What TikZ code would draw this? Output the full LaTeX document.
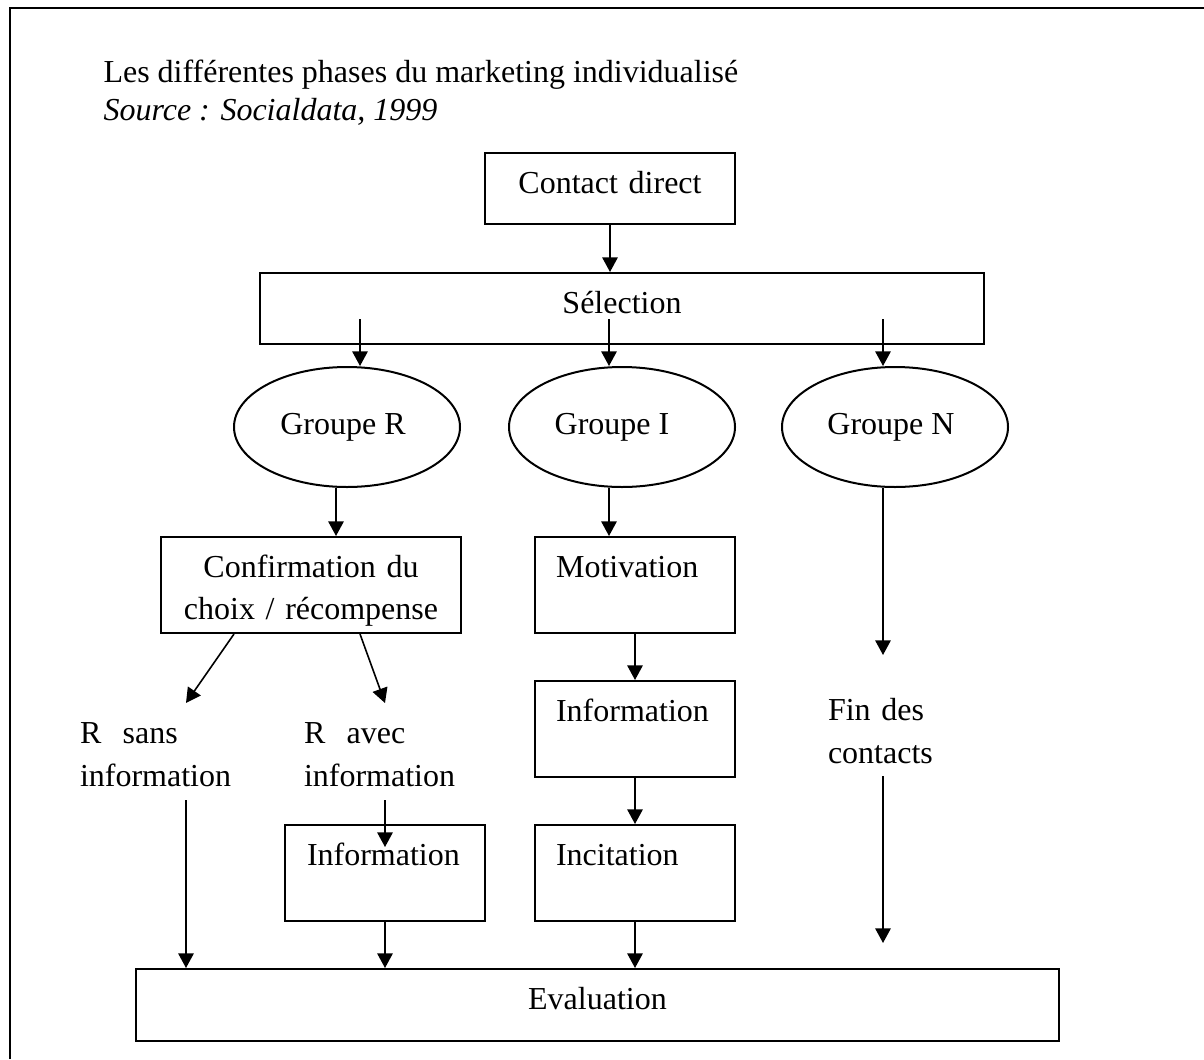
\documentclass[tikz,border=0pt]{standalone}
\usepackage{fontspec}
\setmainfont{Liberation Serif}
\usepackage{tikz}
\usetikzlibrary{shapes,arrows,positioning,calc,arrows.meta}

\begin{document}
\begin{tikzpicture}[x=0.375pt, y=-0.375pt,
    font=\fontsize{12}{16}\selectfont,
    boite/.style={draw, line width=.75pt, anchor=north west, inner sep=0pt, text height=15pt},
    gauche/.style={boite, align=left, inner xsep=7.9pt, text width=59.2pt, text depth=21pt},
    groupe/.style={draw, ellipse, line width=.75pt, minimum width=84.75pt, minimum height=45pt, inner sep=0pt},
    legende/.style={anchor=north, align=left, inner sep=0pt},
    fleche/.style={-{Triangle[length=5.5pt,width=5.8pt]}, line width=.6pt}]
    \useasboundingbox (0,0) rectangle (1204,1059);

    % Cadre
    \draw[line width=.75pt] (10,1059) -- (10,8) -- (1204,8);

    % Titre
    \node[anchor=base west, inner sep=0pt] (titre) at (103,82) {Les différentes phases du marketing individualisé};
    \node[anchor=base west, inner sep=0pt, font=\fontsize{12}{16}\selectfont\itshape] (source) at (103,121) {Source : Socialdata, 1999};

    % Boites
    \node[boite, align=center, text width=93.75pt, text depth=11.6pt] (contact) at (484,152) {Contact direct};
    \node[boite, align=center, text width=271.5pt, text depth=11.6pt] (selection) at (259,272) {Sélection};
    \node[groupe] (grpR) at (347,427) {Groupe R\kern3pt};
    \node[groupe] (grpI) at (622,427) {Groupe I\kern7.5pt};
    \node[groupe] (grpN) at (895,427) {Groupe N\kern3pt};
    \node[boite, align=center, text width=112.5pt, text depth=21pt] (confirm) at (160,536) {Confirmation du\\choix / récompense};
    \node[gauche] (motiv) at (534,536) {Motivation};
    \node[gauche] (infoI) at (534,680) {Information};
    \node[gauche] (incit) at (534,824) {Incitation};
    \node[gauche, inner xsep=8.25pt, text width=58.5pt] (infoR) at (284,824) {Information};
    \node[boite, align=center, text width=346.1pt, text depth=12pt] (eval) at (135,968) {Evaluation};

    % Textes libres
    \node[legende, text width=79.5pt, text height=15pt, text depth=21pt] (rsans) at (186,703) {R\ \ sans\\information};
    \node[legende, text width=60.75pt, text height=15pt, text depth=21pt] (ravec) at (385,703) {R\ \ avec\\information};
    \node[legende, text width=41.25pt, text height=24.5pt, text depth=20.5pt] (fin) at (883,655) {Fin des\\contacts};

    % Fleches
    \coordinate (sR) at (360,319);
    \coordinate (sI) at (609,319);
    \coordinate (sN) at (883,319);
    \draw[fleche] (contact.south) -- (contact.south |- selection.north);
    \draw[fleche] (sR) -- (sR |- grpR.north);
    \draw[fleche] (sI) -- (sI |- grpI.north);
    \draw[fleche] (sN) -- (sN |- grpN.north);
    \draw[fleche] ($(grpR.south)+(-11,0)$) -- ($(grpR.south |- confirm.north)+(-11,0)$);
    \draw[fleche] (grpI.south -| sI) -- (sI |- motiv.north);
    \draw[fleche] (grpN.south -| sN) -- (fin.north);
    \draw[fleche] ($(confirm.south west)+(74,0)$) -- (rsans.north);
    \draw[fleche] ($(confirm.south west)+(200,0)$) -- (ravec.north);
    \draw[fleche] (rsans.south) -- (rsans.south |- eval.north);
    \draw[fleche] (ravec.south) -- ($(infoR.north)+(0,23)$);
    \draw[fleche] (motiv.south) -- (infoI.north);
    \draw[fleche] (infoI.south) -- (incit.north);
    \draw[fleche] (infoR.south) -- (infoR.south |- eval.north);
    \draw[fleche] (incit.south) -- (incit.south |- eval.north);
    \draw[fleche] (fin.south) -- ($(fin.south |- eval.north)+(0,-25)$);
\end{tikzpicture}
\end{document}
